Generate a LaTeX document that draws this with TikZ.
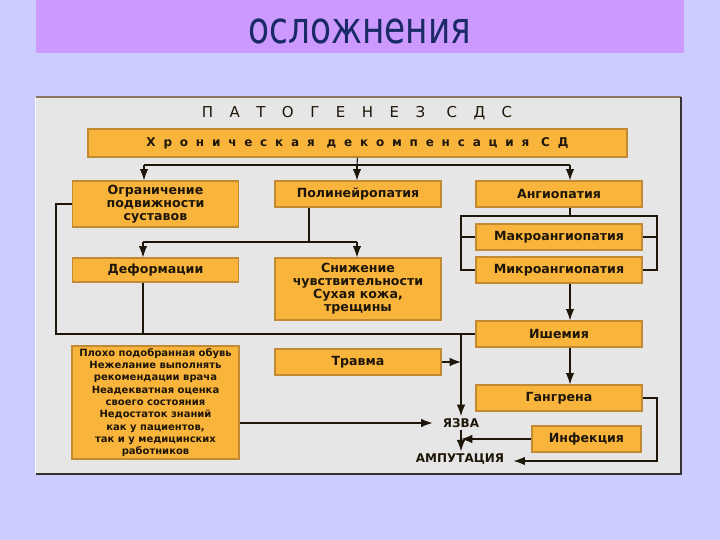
\documentclass[tikz,border=0pt]{standalone}
\usepackage{fontspec}
\usetikzlibrary{arrows.meta,positioning,calc}
\newfontfamily\dejavu{DejaVu Sans}
\newfontfamily\titlefont[FakeStretch=0.78]{DejaVu Sans}
\newfontfamily\spacedfont[LetterSpace=110]{DejaVu Sans}
\newfontfamily\chronfont[LetterSpace=65]{DejaVu Sans}
\definecolor{slidebg}{HTML}{CCCCFF}
\definecolor{titlebar}{HTML}{CC99FF}
\definecolor{titleink}{HTML}{1A2A66}
\definecolor{panel}{HTML}{E6E6E6}
\definecolor{boxfill}{HTML}{F9B43C}
\definecolor{boxedge}{HTML}{C38A34}
\definecolor{ink}{HTML}{1E1608}
\tikzset{
	box/.style={draw=boxedge, fill=boxfill, line width=0.6pt, align=center, inner sep=1pt, text=ink,
		font=\dejavu\bfseries\fontsize{6.3}{6.5}\selectfont},
	colbox/.style={box, minimum width=83pt, minimum height=13pt},
	endtext/.style={inner sep=1pt, text=ink, font=\dejavu\bfseries\fontsize{6}{7}\selectfont},
	flow/.style={-{Latex[length=2mm, width=1.5mm]}, line width=0.55pt, draw=ink},
	link/.style={line width=0.55pt, draw=ink}
}
\begin{document}
\begin{tikzpicture}[x=0.5pt, y=-0.5pt]
	% slide
	\fill[slidebg] (0,0) rectangle (720,540);
	\fill[titlebar] (36,0) rectangle (684,53);
	\node[text=titleink, font=\titlefont\fontsize{22}{24}\selectfont] (title) at (360,31) {осложнения};
	\fill[panel] (36,97) rectangle (681,474);
	\draw[line width=1pt, draw=black!55!brown!70] (36,97) -- (681,97);
	\draw[line width=0.8pt, draw=black!80] (681,97) -- (681,474) -- (36,474);
	\draw[line width=0.5pt, draw=white!85!slidebg] (36,97) -- (36,474);
	% heading
	\node[text=ink, font=\spacedfont\fontsize{7.5}{8}\selectfont] (head) at (357,113) {ПАТОГЕНЕЗ СДС};
	\node[box, minimum width=269.5pt, minimum height=14pt, font=\chronfont\bfseries\fontsize{6}{7}\selectfont] (chron) at (357.5,143) {Хроническая декомпенсация СД};
	% boxes
	\node[colbox, minimum height=23pt] (ogr) at (155.5,204) {Ограничение\\подвижности\\суставов};
	\node[colbox] (poly) at (358,194) {Полинейропатия};
	\node[colbox] (angio) at (559,194) {Ангиопатия};
	\node[colbox, minimum height=12pt] (deform) at (155.5,270) {Деформации};
	\node[colbox, minimum height=31pt] (sens) at (358,289) {Снижение\\чувствительности\\Сухая кожа,\\трещины};
	\node[colbox] (macro) at (559,237) {Макроангиопатия};
	\node[colbox] (micro) at (559,270) {Микроангиопатия};
	\node[colbox] (isch) at (559,334) {Ишемия};
	\node[colbox] (trauma) at (358,362) {Травма};
	\node[colbox] (gang) at (559,398) {Гангрена};
	\node[box, minimum width=54.5pt, minimum height=13pt] (infect) at (586.5,439) {Инфекция};
	\node[box, minimum width=83.5pt, minimum height=56.5pt, font=\dejavu\bfseries\fontsize{5}{6.15}\selectfont] (causes) at (155.5,402.5)
		{Плохо подобранная обувь\\Нежелание выполнять\\рекомендации врача\\Неадекватная оценка\\своего состояния\\Недостаток знаний\\как у пациентов,\\так и у медицинских\\работников};
	\node[endtext] (ulcer) at (461,423) {ЯЗВА};
	\node[endtext] (amput) at (460,459) {АМПУТАЦИЯ};
	% junctions
	\coordinate (topL) at (144,165);
	\coordinate (topC) at (357,165);
	\coordinate (topR) at (570,165);
	\coordinate (polyjoint) at (309,242);
	\coordinate (midL) at (143,242);
	\coordinate (midR) at (357,242);
	\coordinate (leftbus) at (56,334);
	\coordinate (brL) at (461,216);
	\coordinate (brR) at (657,216);
	\coordinate (ulcerbus) at (461,334);
	\coordinate (gangturn) at (657,461);
	% connectors
	\draw[link] (chron.south) -- (topC);
	\draw[link] (topL) -- (topR);
	\draw[flow] (topL) -- (topL |- ogr.north);
	\draw[flow] (topC) -- (topC |- poly.north);
	\draw[flow] (topR) -- (topR |- angio.north);
	\draw[link] (polyjoint |- poly.south) -- (polyjoint);
	\draw[link] (midL) -- (midR);
	\draw[flow] (midL) -- (midL |- deform.north);
	\draw[flow] (midR) -- (midR |- sens.north);
	\draw[link] (ogr.west) -| (leftbus) -- (isch.west);
	\draw[link] (midL |- deform.south) -- (midL |- leftbus);
	\draw[link] (topR |- angio.south) -- (topR |- brL);
	\draw[link] (micro.west) -| (brL) -- (brR) |- (micro.east);
	\draw[link] (macro.west) -- (macro.west -| brL);
	\draw[link] (macro.east) -- (macro.east -| brR);
	\draw[flow] (topR |- micro.south) -- (topR |- isch.north);
	\draw[flow] (topR |- isch.south) -- (topR |- gang.north);
	\draw[flow] (ulcerbus) -- (ulcer.north);
	\draw[flow] (trauma.east) -- (trauma.east -| ulcerbus);
	\draw[flow, shorten >=4pt] (causes.east |- ulcer.west) -- (ulcer.west);
	\draw[flow] (ulcer.south) -- (ulcer.south |- amput.north);
	\draw[flow] (infect.west) -- (infect.west -| ulcerbus);
	\draw[flow, shorten >=3.5pt] (gang.east) -| (gangturn) -- (gangturn -| amput.east);
\end{tikzpicture}
\end{document}
